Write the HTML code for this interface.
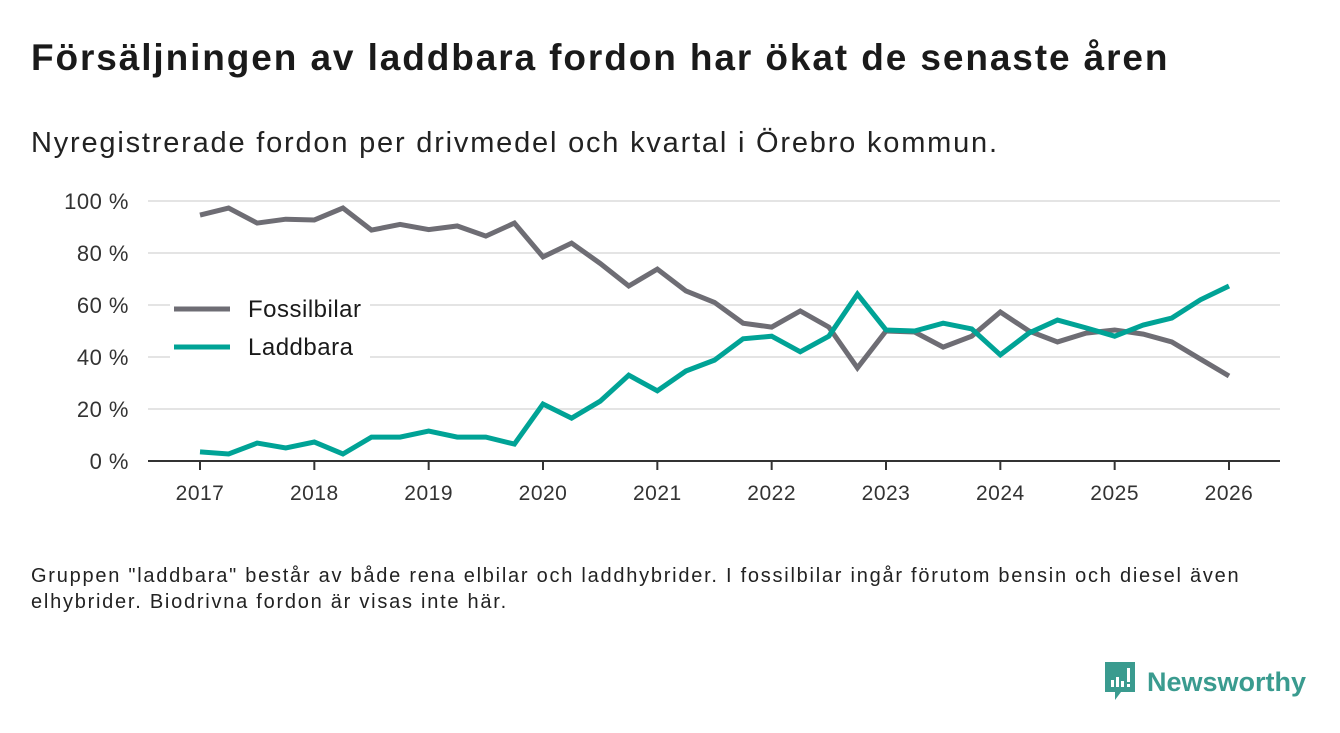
<!DOCTYPE html>
<html><head><meta charset="utf-8"><style>
body{margin:0;width:1340px;height:733px;background:#fff;font-family:"Liberation Sans",sans-serif;color:#1a1a1a;overflow:hidden;position:relative}
.t{position:absolute;left:31px;top:37px;font-size:37px;font-weight:bold;letter-spacing:1.9px;white-space:nowrap}
.s{position:absolute;left:31px;top:127px;font-size:29px;color:#222;letter-spacing:1.8px;white-space:nowrap}
.f{position:absolute;left:31px;top:563px;font-size:20px;line-height:26px;color:#222;width:1240px;letter-spacing:1.75px}
.logo{position:absolute;left:1103px;top:662px;display:flex;align-items:center}
.logo span{font-size:27px;font-weight:bold;color:#3a9b8f;margin-left:10px}
svg text{font-family:"Liberation Sans",sans-serif}
</style></head><body>
<div class="t">Försäljningen av laddbara fordon har ökat de senaste åren</div>
<div class="s">Nyregistrerade fordon per drivmedel och kvartal i Örebro kommun.</div>
<svg id="chart" style="position:absolute;left:0;top:0" width="1340" height="560"></svg>
<div class="f">Gruppen "laddbara" består av både rena elbilar och laddhybrider. I fossilbilar ingår förutom bensin och diesel även elhybrider. Biodrivna fordon är visas inte här.</div>
<div class="logo">
<svg width="34" height="40" viewBox="0 0 34 40"><path d="M2 0H32V30H18L12 38V30H2Z" fill="#3a9b8f"/><rect x="8" y="18" width="3" height="7" fill="#fff"/><rect x="13" y="15" width="3" height="10" fill="#fff"/><rect x="18" y="19" width="3" height="6" fill="#fff"/><rect x="24" y="6" width="3" height="14" fill="#fff"/><rect x="24" y="22" width="3" height="3" fill="#fff"/></svg>
<span>Newsworthy</span></div>
<script>
const years=[2017,2018,2019,2020,2021,2022,2023,2024,2025,2026];
const yTicks=[0,20,40,60,80,100];
const fossil=[94.6,97.3,91.5,93,92.7,97.3,88.8,91,89,90.4,86.5,91.5,78.5,83.8,76,67.3,73.8,65.4,61,53,51.5,57.7,51.5,35.8,50,49.6,43.8,48,57.3,50,45.8,49.2,50.4,48.8,45.8,39.2,32.7];
const laddbara=[3.5,2.7,6.9,5,7.3,2.7,9.2,9.2,11.5,9.2,9.2,6.5,21.9,16.5,23,33,27,34.6,38.8,47,48,42,48,64.2,50.4,50,53,50.8,40.8,49.2,54.2,51.2,48,52.3,55,62,67.3];
const NS="http://www.w3.org/2000/svg";
const svg=document.getElementById('chart');
const x=t=>200+(t-2017)*(1029/9);
const y=v=>461-v*2.6;
function mk(tag,a){const e=document.createElementNS(NS,tag);for(const k in a)e.setAttribute(k,a[k]);svg.appendChild(e);return e;}
yTicks.forEach(v=>{
 if(v>0){const g=mk('line',{x1:148,x2:1280,y1:y(v),y2:y(v),stroke:'#dcdcdc','stroke-width':1.5});
 
 }
 const t=mk('text',{x:129,y:y(v)+8,'text-anchor':'end','font-size':22,'letter-spacing':0.5,fill:'#333'});t.textContent=v+' %';
 
 
});
const ax=mk('line',{x1:148,x2:1280,y1:461,y2:461,stroke:'#333','stroke-width':2});


years.forEach(yr=>{
 mk('line',{x1:x(yr),x2:x(yr),y1:461,y2:470,stroke:'#333','stroke-width':2});
 const t=mk('text',{x:x(yr),y:500,'text-anchor':'middle','font-size':21,'letter-spacing':0.5,fill:'#333'});t.textContent=yr;
 
 
});
mk('rect',{x:170,y:285,width:200,height:80,fill:'#fff'});
function line(data,color,name){
 const p=mk('polyline',{points:data.map((v,i)=>x(2017+i/4)+','+y(v)).join(' '),fill:'none',stroke:color,'stroke-width':5,'stroke-linejoin':'miter'});
 
 
}
line(fossil,'#6e6d74','fossilbilar-line');
line(laddbara,'#00a396','laddbara-line');
[['Fossilbilar','#6e6d74',309],['Laddbara','#00a396',347]].forEach(([n,c,yy])=>{
 mk('line',{x1:174,x2:230,y1:yy,y2:yy,stroke:c,'stroke-width':5});
 const t=mk('text',{x:248,y:yy+8,'font-size':24,'letter-spacing':0.5,fill:'#1a1a1a'});t.textContent=n;
 
 
});
</script>
</body></html>
